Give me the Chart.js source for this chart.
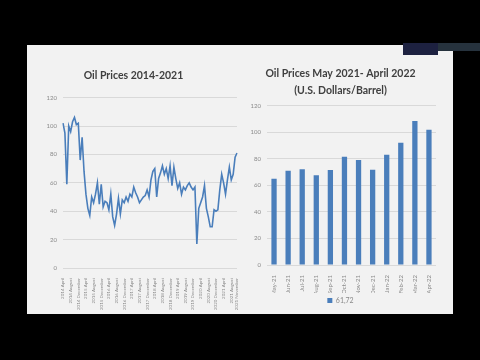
<!DOCTYPE html>
<html>
<head>
<meta charset="utf-8">
<script src="https://cdn.jsdelivr.net/npm/chart.js@4.4.1/dist/chart.umd.min.js"></script>
<style>
  body { margin: 0; background: #000; width: 480px; height: 360px; overflow: hidden; position: relative; }
  #slide { position: absolute; left: 27px; top: 45px; width: 426px; height: 269px; background: #f2f2f2; }
  #cam { position: absolute; left: 403px; top: 43px; width: 35px; height: 12px; background: #1d2140; }
  #strip { position: absolute; left: 438px; top: 43px; width: 42px; height: 8px; background: #26323d; }
  canvas { position: absolute; }
  #left { left: 30px; top: 60px; }
  #right { left: 245px; top: 58px; }
</style>
</head>
<body>
<div id="slide"></div>
<div id="cam"></div>
<div id="strip"></div>
<canvas id="left" width="218" height="254"></canvas>
<canvas id="right" width="202" height="256"></canvas>
<script>
// monthly oil prices, April 2014 - November 2021
var monthNames = ['January','February','March','April','May','June','July','August','September','October','November','December'];
var months = [];
for (var y = 2014; y <= 2021; y++) {
  for (var m = 0; m < 12; m++) {
    if (y == 2014 && m < 3) continue;
    if (y == 2021 && m > 10) continue;
    months.push(y + ' ' + monthNames[m]);
  }
}
var prices = [102, 95, 59, 100, 96, 103, 106, 101, 102, 76,
              92, 68, 52, 42, 37, 50, 46, 52, 60, 45,
              59, 43, 47, 46, 41, 52, 36, 30, 38, 49,
              38, 48, 46, 50, 47, 52, 50, 57, 53, 50,
              46, 48, 50, 51, 55, 50, 62, 68, 70, 50,
              63, 67, 72, 66, 70, 63, 72, 58, 71, 63,
              56, 60, 52, 57, 55, 58, 60, 57, 55, 57,
              17, 42, 46, 50, 58, 42, 36, 29, 29, 41,
              40, 41, 55, 66, 60, 52, 62, 71, 62, 66,
              78, 81];

var barLabels = ['May-21','Jun-21','Jul-21','Aug-21','Sep-21','Oct-21','Nov-21','Dec-21','Jan-22','Feb-22','Mar-22','Apr-22'];
var barValues = [65, 71, 72, 67.5, 71.5, 81.5, 79, 71.7, 83, 92, 108.5, 101.8];
var seriesName = '61,72';

var blue = '#4a7ebb';
var grid = '#d9d9d9';
var tickColor = '#8a8a8a';
var titleColor = '#404040';
var fontFam = 'Lato, "Open Sans", sans-serif';

new Chart(document.getElementById('left'), {
  type: 'line',
  data: {
    labels: months,
    datasets: [{
      data: prices,
      borderColor: blue,
      borderWidth: 1.6,
      pointRadius: 0,
      tension: 0,
      fill: false
    }]
  },
  options: {
    responsive: false,
    animation: false,
    layout: { padding: { left: 0, right: 11, top: 0, bottom: 0 } },
    plugins: {
      legend: { display: false },
      tooltip: { enabled: false },
      title: {
        display: true,
        text: 'Oil Prices 2014-2021',
        color: titleColor,
        font: { family: fontFam, size: 10.5, weight: 'bold' },
        padding: { top: 9, bottom: 16 }
      }
    },
    scales: {
      x: {
        offset: false,
        grid: { display: false },
        border: { display: false },
        afterFit: function (s) { s.height = 46; },
        ticks: {
          autoSkip: false,
          minRotation: 90,
          maxRotation: 90,
          padding: 2,
          color: tickColor,
          font: { family: fontFam, size: 4.5 },
          callback: function (v, i) {
            if (i == months.length - 1) return months[i];
            if (i % 4 == 0 && i < months.length - 3) return months[i];
            return null;
          }
        }
      },
      y: {
        min: 0,
        max: 120,
        grid: { color: grid, drawTicks: false },
        border: { display: false },
        afterFit: function (s) { s.width = 33; },
        ticks: {
          stepSize: 20,
          padding: 6,
          color: tickColor,
          font: { family: fontFam, size: 6 }
        }
      }
    }
  }
});

new Chart(document.getElementById('right'), {
  type: 'bar',
  data: {
    labels: barLabels,
    datasets: [{
      label: seriesName,
      data: barValues,
      backgroundColor: blue,
      barPercentage: 0.75,
      categoryPercentage: 0.5
    }]
  },
  options: {
    responsive: false,
    animation: false,
    layout: { padding: { left: 0, right: 11, top: 0, bottom: 0 } },
    plugins: {
      tooltip: { enabled: false },
      title: {
        display: true,
        text: ['Oil Prices May 2021- April 2022', '(U.S. Dollars/Barrel)'],
        color: titleColor,
        font: { family: fontFam, size: 10.5, weight: 'bold', lineHeight: 1.6 },
        padding: { top: 7, bottom: 7 }
      },
      legend: {
        position: 'bottom',
        labels: {
          boxWidth: 5,
          boxHeight: 5,
          padding: 4,
          color: tickColor,
          font: { family: fontFam, size: 7 }
        }
      }
    },
    scales: {
      x: {
        grid: { display: false },
        border: { display: false },
        afterFit: function (s) { s.height = 28; },
        ticks: {
          autoSkip: false,
          minRotation: 90,
          maxRotation: 90,
          padding: 2,
          color: tickColor,
          font: { family: fontFam, size: 6 }
        }
      },
      y: {
        min: 0,
        max: 120,
        grid: { color: grid, drawTicks: false },
        border: { display: false },
        afterFit: function (s) { s.width = 22; },
        ticks: {
          stepSize: 20,
          padding: 6,
          color: tickColor,
          font: { family: fontFam, size: 6 }
        }
      }
    }
  }
});
</script>
</body>
</html>
